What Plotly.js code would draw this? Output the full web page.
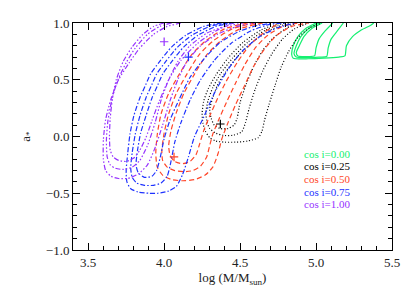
<!DOCTYPE html>
<html>
<head>
<meta charset="utf-8">
<script src="https://cdn.plot.ly/plotly-3.0.1.min.js"></script>
<style>html,body{margin:0;padding:0;background:#fff;}#chart{width:415px;height:297px;}</style>
</head>
<body>
<div id="chart"></div>
<script>
// ---- cos i = 1.00 (purple) contours ----
const purple1X = [4.11, 4.02, 3.93, 3.84, 3.77, 3.70, 3.65, 3.615, 3.60, 3.60, 3.615, 3.65, 3.70, 3.76, 3.83, 3.89, 3.94, 3.99, 4.04, 4.09, 4.15, 4.24, 4.35, 4.48, 4.60];
const purple1Y = [1.00, 0.97, 0.90, 0.78, 0.65, 0.50, 0.33, 0.15, -0.03, -0.20, -0.30, -0.35, -0.37, -0.37, -0.33, -0.25, -0.10, 0.10, 0.32, 0.50, 0.66, 0.80, 0.90, 0.97, 1.00];
const purple2X = [4.05, 3.97, 3.89, 3.81, 3.75, 3.69, 3.655, 3.63, 3.62, 3.625, 3.645, 3.68, 3.73, 3.79, 3.84, 3.89, 3.94, 3.98, 4.03, 4.09, 4.17, 4.28, 4.40, 4.52];
const purple2Y = [1.00, 0.97, 0.90, 0.78, 0.65, 0.48, 0.32, 0.14, -0.03, -0.18, -0.25, -0.28, -0.29, -0.27, -0.21, -0.08, 0.12, 0.32, 0.50, 0.66, 0.80, 0.91, 0.97, 1.00];
const purple3X = [4.00, 3.93, 3.86, 3.79, 3.73, 3.685, 3.66, 3.645, 3.64, 3.645, 3.665, 3.70, 3.75, 3.80, 3.84, 3.88, 3.92, 3.97, 4.03, 4.11, 4.22, 4.34, 4.45];
const purple3Y = [1.00, 0.97, 0.90, 0.79, 0.66, 0.50, 0.34, 0.16, 0.00, -0.12, -0.18, -0.21, -0.22, -0.19, -0.12, -0.01, 0.14, 0.32, 0.50, 0.67, 0.82, 0.93, 1.00];

// ---- cos i = 0.75 (blue) contours ----
const blue1X = [4.38, 4.26, 4.14, 4.05, 3.97, 3.91, 3.88, 3.84, 3.80, 3.775, 3.76, 3.75, 3.755, 3.78, 3.83, 3.90, 3.96, 4.03, 4.08, 4.12, 4.16, 4.20, 4.26, 4.33, 4.42, 4.52, 4.63, 4.75, 4.87];
const blue1Y = [1.00, 0.97, 0.89, 0.79, 0.66, 0.55, 0.46, 0.34, 0.18, 0.02, -0.15, -0.30, -0.40, -0.46, -0.49, -0.50, -0.50, -0.48, -0.44, -0.34, -0.18, 0.00, 0.17, 0.38, 0.59, 0.76, 0.88, 0.96, 1.00];
const blue2X = [4.42, 4.30, 4.18, 4.09, 4.01, 3.95, 3.92, 3.88, 3.84, 3.81, 3.79, 3.78, 3.79, 3.82, 3.87, 3.93, 3.98, 4.02, 4.045, 4.07, 4.11, 4.17, 4.24, 4.33, 4.44, 4.57, 4.70, 4.80];
const blue2Y = [1.00, 0.97, 0.89, 0.79, 0.66, 0.55, 0.46, 0.34, 0.18, 0.02, -0.14, -0.28, -0.36, -0.41, -0.43, -0.43, -0.41, -0.35, -0.22, -0.05, 0.12, 0.32, 0.50, 0.67, 0.82, 0.93, 0.99, 1.00];
const blue3X = [4.46, 4.34, 4.22, 4.13, 4.05, 3.99, 3.96, 3.92, 3.88, 3.845, 3.825, 3.815, 3.83, 3.87, 3.92, 3.95, 3.975, 4.00, 4.04, 4.10, 4.17, 4.26, 4.37, 4.50, 4.62, 4.72];
const blue3Y = [1.00, 0.97, 0.89, 0.79, 0.66, 0.55, 0.46, 0.34, 0.18, 0.03, -0.12, -0.25, -0.32, -0.36, -0.35, -0.30, -0.18, -0.02, 0.15, 0.33, 0.52, 0.68, 0.83, 0.93, 0.98, 1.00];

// ---- cos i = 0.50 (red) contours ----
const red1X = [4.55, 4.40, 4.28, 4.18, 4.10, 4.03, 3.98, 3.955, 3.945, 3.955, 3.99, 4.05, 4.12, 4.20, 4.27, 4.32, 4.355, 4.38, 4.42, 4.47, 4.53, 4.59, 4.66, 4.74, 4.84, 4.95];
const red1Y = [1.00, 0.95, 0.85, 0.72, 0.55, 0.38, 0.20, 0.02, -0.15, -0.27, -0.34, -0.38, -0.39, -0.38, -0.34, -0.27, -0.15, -0.02, 0.12, 0.28, 0.45, 0.62, 0.77, 0.89, 0.97, 1.00];
const red2X = [4.60, 4.45, 4.33, 4.23, 4.15, 4.08, 4.03, 4.00, 3.985, 3.99, 4.02, 4.07, 4.13, 4.19, 4.24, 4.28, 4.30, 4.32, 4.36, 4.41, 4.47, 4.53, 4.60, 4.68, 4.78, 4.88];
const red2Y = [1.00, 0.95, 0.85, 0.72, 0.55, 0.38, 0.20, 0.03, -0.12, -0.21, -0.27, -0.30, -0.31, -0.30, -0.26, -0.18, -0.08, 0.02, 0.15, 0.30, 0.47, 0.63, 0.78, 0.89, 0.97, 1.00];
const red3X = [4.65, 4.50, 4.38, 4.28, 4.20, 4.13, 4.08, 4.045, 4.03, 4.04, 4.07, 4.12, 4.17, 4.21, 4.235, 4.26, 4.30, 4.35, 4.41, 4.48, 4.56, 4.66, 4.76];
const red3Y = [1.00, 0.95, 0.85, 0.72, 0.55, 0.38, 0.21, 0.05, -0.08, -0.17, -0.22, -0.24, -0.22, -0.16, -0.06, 0.05, 0.18, 0.33, 0.49, 0.65, 0.80, 0.92, 1.00];

// ---- cos i = 0.25 (black) contours ----
const black1X = [4.76, 4.64, 4.52, 4.42, 4.34, 4.29, 4.26, 4.25, 4.255, 4.27, 4.30, 4.34, 4.40, 4.47, 4.55, 4.62, 4.645, 4.66, 4.69, 4.73, 4.77, 4.82, 4.88, 4.96, 5.04];
const black1Y = [1.00, 0.94, 0.83, 0.69, 0.54, 0.42, 0.31, 0.20, 0.12, 0.05, -0.01, -0.04, -0.05, -0.05, -0.04, -0.01, 0.05, 0.14, 0.28, 0.45, 0.61, 0.75, 0.87, 0.96, 1.00];
const black2X = [4.79, 4.67, 4.55, 4.45, 4.37, 4.32, 4.29, 4.275, 4.28, 4.30, 4.34, 4.39, 4.45, 4.51, 4.535, 4.56, 4.60, 4.65, 4.71, 4.78, 4.86, 4.95];
const black2Y = [1.00, 0.94, 0.83, 0.69, 0.55, 0.43, 0.32, 0.22, 0.14, 0.07, 0.03, 0.01, 0.01, 0.04, 0.12, 0.25, 0.42, 0.58, 0.73, 0.86, 0.95, 1.00];
const black3X = [4.82, 4.70, 4.58, 4.48, 4.40, 4.35, 4.32, 4.30, 4.31, 4.33, 4.37, 4.42, 4.46, 4.48, 4.50, 4.54, 4.59, 4.65, 4.72, 4.80, 4.87];
const black3Y = [1.00, 0.94, 0.83, 0.70, 0.56, 0.45, 0.34, 0.24, 0.16, 0.10, 0.07, 0.07, 0.10, 0.16, 0.30, 0.46, 0.62, 0.76, 0.87, 0.95, 1.00];

// ---- cos i = 0.00 (green) contours ----
const green1X = [5.00, 4.93, 4.88, 4.85, 4.84, 4.85, 4.95, 5.05, 5.15, 5.19, 5.20, 5.24, 5.30, 5.36, 5.38];
const green1Y = [1.00, 0.95, 0.88, 0.80, 0.72, 0.69, 0.685, 0.69, 0.70, 0.71, 0.80, 0.88, 0.94, 0.98, 1.00];
const green2X = [5.02, 4.95, 4.90, 4.87, 4.855, 4.87, 4.95, 5.02, 5.07, 5.08, 5.10, 5.14, 5.18];
const green2Y = [1.00, 0.95, 0.88, 0.80, 0.73, 0.70, 0.695, 0.70, 0.705, 0.78, 0.86, 0.93, 1.00];
const green3X = [5.04, 4.97, 4.92, 4.89, 4.87, 4.88, 4.94, 4.99, 5.00, 5.02, 5.06, 5.11];
const green3Y = [1.00, 0.95, 0.88, 0.80, 0.74, 0.71, 0.705, 0.71, 0.78, 0.86, 0.93, 1.00];

// ---- best-fit crosses ----
const crossX = [4.00, 4.16, 4.065, 4.37];
const crossY = [0.835, 0.70, -0.18, 0.11];
const crossColors = ['#9632ff', '#1e32ff', '#ff4628', '#000000'];

// ---- legend labels ----
const labels = ['cos i=0.00', 'cos i=0.25', 'cos i=0.50', 'cos i=0.75', 'cos i=1.00'];
const labelColors = ['#14f070', '#000000', '#ff4628', '#1e32ff', '#9632ff'];
const labelY = [-0.15, -0.262, -0.374, -0.486, -0.598];

const groups = [
  {c: '#14f070', d: 'solid', lines: [[green1X, green1Y], [green2X, green2Y], [green3X, green3Y]]},
  {c: '#000000', d: '1px,2px', lines: [[black1X, black1Y], [black2X, black2Y], [black3X, black3Y]]},
  {c: '#ff4628', d: '5px,3px', lines: [[red1X, red1Y], [red2X, red2Y], [red3X, red3Y]]},
  {c: '#1e32ff', d: '5px,2px,1.5px,2px', lines: [[blue1X, blue1Y], [blue2X, blue2Y], [blue3X, blue3Y]]},
  {c: '#9632ff', d: '5px,2px,1.5px,2px,1.5px,2px,1.5px,2px', lines: [[purple1X, purple1Y], [purple2X, purple2Y], [purple3X, purple3Y]]}
];

const traces = [];
groups.forEach(g => {
  g.lines.forEach(([xs, ys]) => {
    traces.push({x: xs, y: ys, type: 'scatter', mode: 'lines', line: {color: g.c, width: 1.2, dash: g.d, shape: 'spline', smoothing: 0.6}, showlegend: false, hoverinfo: 'skip'});
  });
});
crossX.forEach((cx, i) => {
  traces.push({x: [cx], y: [crossY[i]], type: 'scatter', mode: 'markers', marker: {symbol: 'cross-thin', size: 6, line: {color: crossColors[i], width: 1.2}}, showlegend: false});
});

const FAM = '"Liberation Serif", "Times New Roman", serif';
const font = {family: FAM, size: 13, color: '#222'};
const axisCommon = {
  showgrid: false, zeroline: false, showline: true, linecolor: '#000', linewidth: 1,
  ticks: 'inside', ticklen: 7, tickwidth: 1, tickcolor: '#000', mirror: 'allticks',
  tickformat: '.1f', tickfont: font,
  minor: {ticks: 'inside', ticklen: 4, tickwidth: 1, tickcolor: '#000', dtick: 0.1, showgrid: false}
};

const layout = {
  width: 415, height: 297,
  margin: {l: 73, r: 23, t: 23, b: 47},
  paper_bgcolor: '#fff', plot_bgcolor: '#fff',
  font: font,
  xaxis: Object.assign({}, axisCommon, {range: [3.4, 5.5], dtick: 0.5, tick0: 3.5,
    title: {text: 'log (M/M<sub>sun</sub>)', font: font, standoff: 4}}),
  yaxis: Object.assign({}, axisCommon, {range: [-1.0, 1.0], dtick: 0.5, tick0: 0,
    title: {text: 'a<sub>*</sub>', font: font, standoff: 12}}),
  annotations: labels.map((t, i) => ({x: 4.916, y: labelY[i], xref: 'x', yref: 'y', text: t, showarrow: false, xanchor: 'left', yanchor: 'middle', borderpad: 0, font: {family: FAM, size: 11, color: labelColors[i]}}))
};

Plotly.newPlot('chart', traces, layout, {staticPlot: true, displayModeBar: false});
</script>
</body>
</html>
